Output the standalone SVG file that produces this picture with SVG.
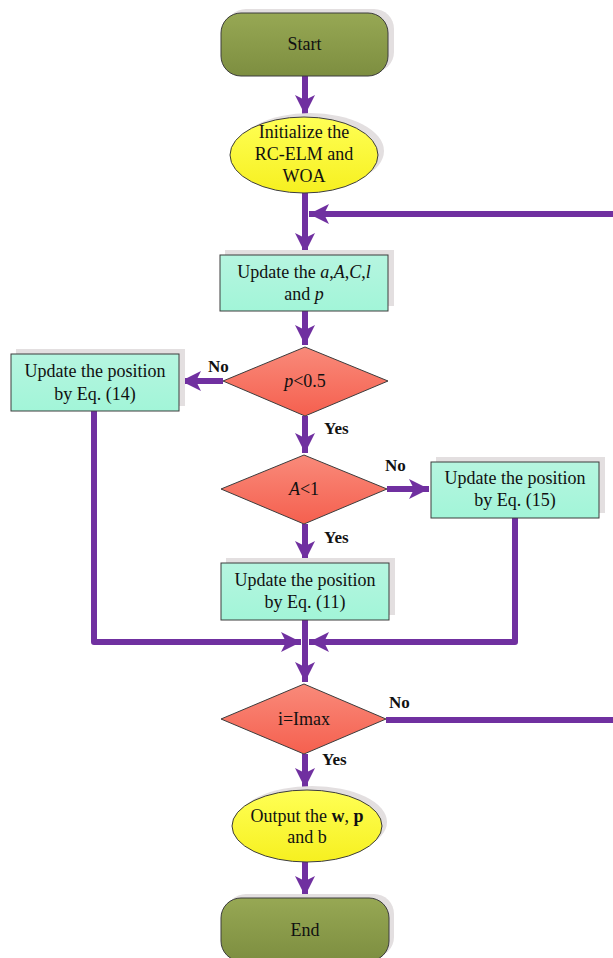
<svg xmlns="http://www.w3.org/2000/svg" width="613" height="958" viewBox="0 0 613 958">
<defs>
<linearGradient id="gOlive" x1="0" y1="0" x2="0" y2="1"><stop offset="0" stop-color="#97a854"/><stop offset="1" stop-color="#7d8e40"/></linearGradient>
<linearGradient id="gMint" x1="0" y1="0" x2="0" y2="1"><stop offset="0" stop-color="#b6f5e0"/><stop offset="1" stop-color="#a2f5d8"/></linearGradient>
<linearGradient id="gRed" x1="0" y1="0" x2="0" y2="1"><stop offset="0" stop-color="#f98a7a"/><stop offset="1" stop-color="#f5604f"/></linearGradient>
<linearGradient id="gYel" x1="0" y1="0" x2="0" y2="1"><stop offset="0" stop-color="#ffff55"/><stop offset="1" stop-color="#f6f020"/></linearGradient>
<marker id="ah" viewBox="0 0 20 20" refX="20" refY="10" markerWidth="20" markerHeight="20" markerUnits="userSpaceOnUse" orient="auto">
<path d="M0,0 L20,10 L0,20 L5,10 Z" fill="#7030a0"/>
</marker>
<style>
.sh{fill:#e3dfe0}
.bd{stroke:#3c3c3c;stroke-width:1}
.t{font-family:"Liberation Serif","Times New Roman",serif;font-size:18px;fill:#111;text-anchor:middle}
.lb{font-family:"Liberation Serif","Times New Roman",serif;font-size:17px;font-weight:bold;fill:#111}
.c{fill:none;stroke:#7030a0;stroke-width:6;stroke-linejoin:round}
</style>
</defs>

<g id="connectors">
<path class="c" d="M305,76 V115" marker-end="url(#ah)"/>
<path class="c" d="M305,193 V253" marker-end="url(#ah)"/>
<path class="c" d="M613,214 H309" marker-end="url(#ah)"/>
<path class="c" d="M305,311 V345" marker-end="url(#ah)"/>
<path class="c" d="M223,381 H181" marker-end="url(#ah)"/>
<path class="c" d="M305,416 V453" marker-end="url(#ah)"/>
<path class="c" d="M387,489 H429" marker-end="url(#ah)"/>
<path class="c" d="M305,524 V561" marker-end="url(#ah)"/>
<path class="c" d="M94,411 V642 H301" marker-end="url(#ah)"/>
<path class="c" d="M515,518 V642 H309" marker-end="url(#ah)"/>
<path class="c" d="M305,620 V682" marker-end="url(#ah)"/>
<path class="c" d="M386,720 H613"/>
<path class="c" d="M305,754 V788" marker-end="url(#ah)"/>
<path class="c" d="M305,862 V896" marker-end="url(#ah)"/>
</g>

<g id="start">
<rect class="sh" x="226" y="9" width="168" height="63" rx="20"/>
<rect class="bd" x="221" y="13" width="167" height="63" rx="20" fill="url(#gOlive)"/>
<text class="t" x="304.5" y="50">Start</text>
</g>

<g id="init">
<ellipse class="sh" cx="310" cy="151" rx="74" ry="38"/>
<ellipse class="bd" cx="304" cy="155" rx="74" ry="38" fill="url(#gYel)"/>
<text class="t" x="304" y="138">Initialize the</text>
<text class="t" x="304" y="160">RC-ELM and</text>
<text class="t" x="304" y="182">WOA</text>
</g>

<g id="update-params">
<rect class="sh" x="225" y="250" width="169" height="56"/>
<rect class="bd" x="220" y="255" width="168" height="56" fill="url(#gMint)"/>
<text class="t" x="304" y="278">Update the <tspan font-style="italic">a</tspan>,<tspan font-style="italic">A</tspan>,<tspan font-style="italic">C</tspan>,<tspan font-style="italic">l</tspan></text>
<text class="t" x="304" y="300">and <tspan font-style="italic">p</tspan></text>
</g>

<g id="cond-p">
<polygon class="bd" points="305,347 388,381 305,416 223,381" fill="url(#gRed)"/>
<text class="t" x="305" y="387"><tspan font-style="italic">p</tspan>&lt;0.5</text>
</g>

<g id="update14">
<rect class="sh" x="16" y="349" width="169" height="57"/>
<rect class="bd" x="11" y="354" width="168" height="57" fill="url(#gMint)"/>
<text class="t" x="95" y="377">Update the position</text>
<text class="t" x="95" y="400">by Eq. (14)</text>
</g>

<g id="cond-A">
<polygon class="bd" points="304,455 387,489 304,524 221,489" fill="url(#gRed)"/>
<text class="t" x="304" y="495"><tspan font-style="italic">A</tspan>&lt;1</text>
</g>

<g id="update15">
<rect class="sh" x="436" y="457" width="169" height="56"/>
<rect class="bd" x="431" y="462" width="168" height="56" fill="url(#gMint)"/>
<text class="t" x="515" y="484">Update the position</text>
<text class="t" x="515" y="506">by Eq. (15)</text>
</g>

<g id="update11">
<rect class="sh" x="226" y="558" width="169" height="57"/>
<rect class="bd" x="221" y="563" width="168" height="57" fill="url(#gMint)"/>
<text class="t" x="305" y="586">Update the position</text>
<text class="t" x="305" y="608">by Eq. (11)</text>
</g>

<g id="cond-i">
<polygon class="bd" points="304,684 386,719 304,754 221,719" fill="url(#gRed)"/>
<text class="t" x="304" y="725">i=Imax</text>
</g>

<g id="output">
<ellipse class="sh" cx="312" cy="822" rx="75" ry="36"/>
<ellipse class="bd" cx="307" cy="826" rx="75" ry="36" fill="url(#gYel)"/>
<text class="t" x="307" y="822">Output the <tspan font-weight="bold">w</tspan>, <tspan font-weight="bold">p</tspan></text>
<text class="t" x="307" y="843">and b</text>
</g>

<g id="end">
<rect class="sh" x="226" y="894" width="168" height="63" rx="20"/>
<rect class="bd" x="221" y="898" width="168" height="63" rx="20" fill="url(#gOlive)"/>
<text class="t" x="305" y="936">End</text>
</g>

<g id="labels">
<text class="lb" x="208" y="372">No</text>
<text class="lb" x="324" y="434">Yes</text>
<text class="lb" x="385" y="471">No</text>
<text class="lb" x="324" y="543">Yes</text>
<text class="lb" x="389" y="708">No</text>
<text class="lb" x="322" y="765">Yes</text>
</g>
</svg>
